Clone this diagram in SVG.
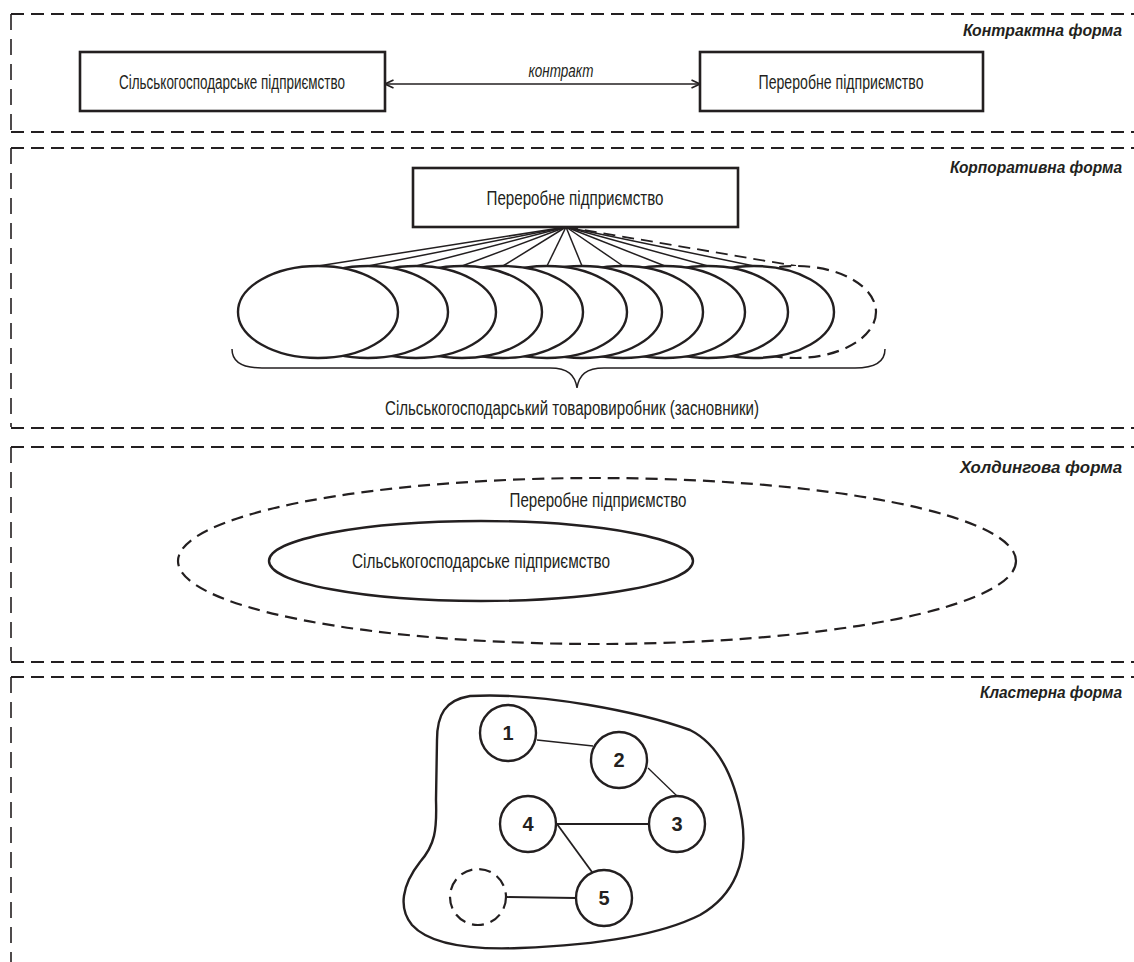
<svg xmlns="http://www.w3.org/2000/svg" width="1134" height="962" viewBox="0 0 1134 962">
<defs>
<style>
.sec{fill:none;stroke:#231f20;stroke-width:2.2;stroke-dasharray:13 7}
.secv{fill:none;stroke:#231f20;stroke-width:1.6;stroke-dasharray:16 9}
.box{fill:#fff;stroke:#231f20;stroke-width:2.6}
.ell{fill:#fff;stroke:#231f20;stroke-width:2.4}
.dash{fill:none;stroke:#231f20;stroke-width:2.2;stroke-dasharray:12 7}
.ln{fill:none;stroke:#231f20;stroke-width:1.5}
.t{font-family:"Liberation Sans Narrow","Liberation Sans",Arial,sans-serif;font-size:20px;fill:#231f20;text-anchor:middle}
.ti{font-family:"Liberation Sans Narrow","Liberation Sans",Arial,sans-serif;font-size:16px;font-weight:bold;font-style:italic;fill:#231f20}
.it{font-family:"Liberation Sans Narrow","Liberation Sans",Arial,sans-serif;font-size:18px;font-style:italic;fill:#231f20;text-anchor:middle}
.num{font-family:"Liberation Sans Narrow","Liberation Sans",Arial,sans-serif;font-size:20px;font-weight:bold;fill:#231f20;text-anchor:middle}
</style>
<marker id="ah" viewBox="0 0 10 10" refX="9.5" refY="5" markerWidth="10" markerHeight="10" markerUnits="userSpaceOnUse" orient="auto-start-reverse">
<path d="M1,1 L9.5,5 L1,9" fill="none" stroke="#231f20" stroke-width="1.6"/>
</marker>
</defs>
<rect width="1134" height="962" fill="#fff"/>

<g id="sections">
<line class="sec" x1="11" y1="14" x2="1134" y2="14"/>
<line class="secv" x1="11" y1="14" x2="11" y2="131"/>
<line class="sec" x1="11" y1="132" x2="1134" y2="132"/>
<line class="sec" x1="11" y1="148" x2="1134" y2="148"/>
<line class="secv" x1="11" y1="148" x2="11" y2="427"/>
<line class="sec" x1="11" y1="428" x2="1134" y2="428"/>
<line class="sec" x1="11" y1="447" x2="1134" y2="447"/>
<line class="secv" x1="11" y1="447" x2="11" y2="661"/>
<line class="sec" x1="11" y1="662" x2="1134" y2="662"/>
<line class="sec" x1="11" y1="677" x2="1134" y2="677"/>
<line class="secv" x1="11" y1="677" x2="11" y2="962"/>
<text class="ti" x="963" y="36" textLength="159" lengthAdjust="spacingAndGlyphs">Контрактна форма</text>
<text class="ti" x="950" y="173" textLength="172" lengthAdjust="spacingAndGlyphs">Корпоративна форма</text>
<text class="ti" x="960" y="473" textLength="162" lengthAdjust="spacingAndGlyphs">Холдингова форма</text>
<text class="ti" x="980" y="698" textLength="142" lengthAdjust="spacingAndGlyphs">Кластерна форма</text>
</g>

<g id="connectors">
<line class="ln" x1="385" y1="84" x2="700" y2="84" marker-start="url(#ah)" marker-end="url(#ah)"/>
<text class="it" x="561" y="77" textLength="65" lengthAdjust="spacingAndGlyphs">контракт</text>
<g id="fan">
<line class="ln" x1="566" y1="227" x2="318" y2="266"/>
<line class="ln" x1="566" y1="227" x2="368" y2="266"/>
<line class="ln" x1="566" y1="227" x2="416" y2="266"/>
<line class="ln" x1="566" y1="227" x2="462" y2="266"/>
<line class="ln" x1="566" y1="227" x2="503" y2="266"/>
<line class="ln" x1="566" y1="227" x2="547" y2="266"/>
<line class="ln" x1="566" y1="227" x2="582" y2="266"/>
<line class="ln" x1="566" y1="227" x2="623" y2="266"/>
<line class="ln" x1="566" y1="227" x2="665" y2="266"/>
<line class="ln" x1="566" y1="227" x2="708" y2="266"/>
<line class="ln" x1="566" y1="227" x2="754" y2="266"/>
<line class="dash" x1="566" y1="227" x2="796" y2="266" style="stroke-width:1.8"/>
</g>
<g id="cluster-links">
<line class="ln" x1="537" y1="740" x2="593" y2="746" style="stroke-width:1.3"/>
<line class="ln" x1="648" y1="768" x2="677" y2="796" style="stroke-width:1.3"/>
<line class="ln" x1="557" y1="824" x2="649" y2="824" style="stroke-width:1.8"/>
<line class="ln" x1="557" y1="824" x2="592" y2="872" style="stroke-width:1.8"/>
<line class="ln" x1="507" y1="897" x2="576" y2="898" style="stroke-width:1.8"/>
</g>
</g>

<g id="contract-agri">
<rect class="box" x="80" y="52" width="305" height="59"/>
<text class="t" x="232" y="89" textLength="226" lengthAdjust="spacingAndGlyphs">Сільськогосподарське підприємство</text>
</g>
<g id="contract-proc">
<rect class="box" x="700" y="52" width="283" height="59"/>
<text class="t" x="841" y="89" textLength="165" lengthAdjust="spacingAndGlyphs">Переробне підприємство</text>
</g>

<g id="corp-proc">
<rect class="box" x="413" y="168" width="325" height="59"/>
<text class="t" x="575" y="205" textLength="177" lengthAdjust="spacingAndGlyphs">Переробне підприємство</text>
</g>

<g id="corp-founders">
<ellipse class="dash" cx="796" cy="312" rx="80" ry="46" style="fill:#fff"/>
<ellipse class="ell" cx="754" cy="312" rx="80" ry="46"/>
<ellipse class="ell" cx="708" cy="312" rx="80" ry="46"/>
<ellipse class="ell" cx="665" cy="312" rx="80" ry="46"/>
<ellipse class="ell" cx="623" cy="312" rx="80" ry="46"/>
<ellipse class="ell" cx="582" cy="312" rx="80" ry="46"/>
<ellipse class="ell" cx="547" cy="312" rx="80" ry="46"/>
<ellipse class="ell" cx="503" cy="312" rx="80" ry="46"/>
<ellipse class="ell" cx="462" cy="312" rx="80" ry="46"/>
<ellipse class="ell" cx="416" cy="312" rx="80" ry="46"/>
<ellipse class="ell" cx="368" cy="312" rx="80" ry="46"/>
<ellipse class="ell" cx="318" cy="312" rx="80" ry="46"/>
<path class="ln" d="M232,349 C232,362 242,368 262,368 L550,368 C568,368 575,375 577,388 C579,375 586,368 604,368 L855,368 C875,368 885,362 885,349"/>
<text class="t" x="572" y="415" textLength="374" lengthAdjust="spacingAndGlyphs">Сільськогосподарський товаровиробник (засновники)</text>
</g>

<g id="holding-proc">
<ellipse class="dash" cx="597" cy="561" rx="419" ry="83"/>
<text class="t" x="598" y="507" textLength="177" lengthAdjust="spacingAndGlyphs">Переробне підприємство</text>
</g>
<g id="holding-agri">
<ellipse class="ell" cx="481" cy="561" rx="212" ry="40"/>
<text class="t" x="481" y="568" textLength="258" lengthAdjust="spacingAndGlyphs">Сільськогосподарське підприємство</text>
</g>

<g id="cluster">
<path class="ell" style="fill:none" d="M437,740 C437,715 445,700 470,696 C540,692 640,712 690,730 C720,745 735,780 742,820 C748,860 735,895 700,915 C660,935 600,945 520,948 C470,950 430,945 412,925 C398,908 402,885 420,862 C435,845 437,830 436,800 Z"/>
</g>
<g id="c1"><circle class="ell" cx="508" cy="733" r="28"/><text class="num" x="508" y="740">1</text></g>
<g id="c2"><circle class="ell" cx="619" cy="760" r="28"/><text class="num" x="619" y="767">2</text></g>
<g id="c3"><circle class="ell" cx="677" cy="824" r="28"/><text class="num" x="677" y="831">3</text></g>
<g id="c4"><circle class="ell" cx="528" cy="824" r="28"/><text class="num" x="528" y="831">4</text></g>
<g id="c5"><circle class="ell" cx="604" cy="898" r="28"/><text class="num" x="604" y="905">5</text></g>
<g id="c6"><circle class="dash" cx="478" cy="897" r="28" style="fill:#fff"/></g>
</svg>
